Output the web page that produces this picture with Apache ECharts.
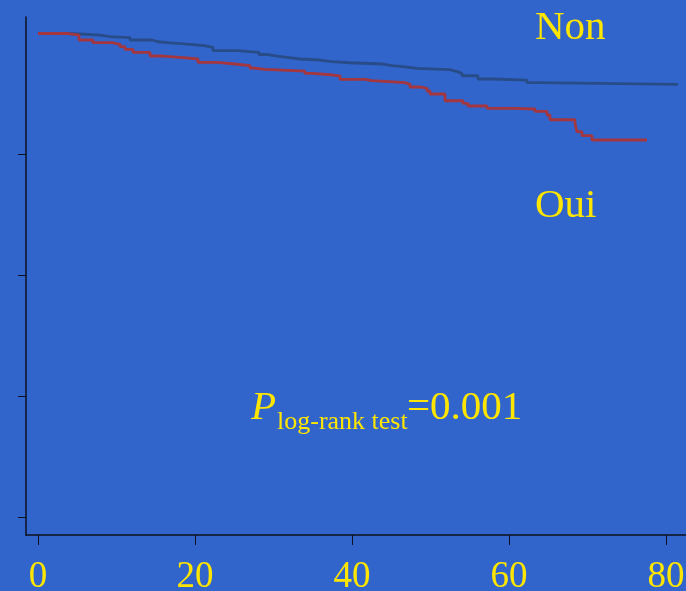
<!DOCTYPE html>
<html>
<head>
<meta charset="utf-8">
<script src="https://cdn.jsdelivr.net/npm/echarts@6/dist/echarts.min.js"></script>
<style>
html,body{margin:0;padding:0;background:#3265CB;}
#chart{width:686px;height:591px;}
</style>
</head>
<body>
<div id="chart"></div>
<script>
const xTicks = [0, 20, 40, 60, 80];
const yTicks = [0.2, 0.4, 0.6, 0.8];

const nonTimes = [0, 3.82, 5.35, 7.90, 9.17, 11.72, 14.52, 15.29, 16.56, 19.36, 21.02, 22.29, 25.35, 28.15, 29.30, 30.45, 31.97, 33.38, 35.92, 37.45, 39.75, 43.95, 45.10, 46.50, 48.28, 52.48, 53.38, 54.01, 56.05, 57.96, 62.29, 63.69, 81.53];
const nonSurv  = [1, 0.9992, 0.9975, 0.9947, 0.9931, 0.9893, 0.9864, 0.9848, 0.9821, 0.9802, 0.9769, 0.9716, 0.9689, 0.9653, 0.9628, 0.9603, 0.9579, 0.9562, 0.9534, 0.9517, 0.9496, 0.9468, 0.9451, 0.9425, 0.9402, 0.9369, 0.9342, 0.9302, 0.9248, 0.9231, 0.9187, 0.9160, 0.9160];

const ouiTimes = [0, 3.82, 5.22, 7.01, 9.43, 10.45, 11.08, 12.10, 14.27, 15.92, 18.47, 20.38, 22.80, 25.10, 27.01, 27.39, 28.92, 34.01, 35.03, 37.58, 38.47, 41.66, 42.55, 46.75, 47.39, 48.66, 49.55, 49.94, 51.85, 54.14, 54.78, 57.20, 60.76, 63.31, 64.84, 65.22, 68.41, 68.66, 69.30, 70.57, 77.58];
const ouiSurv  = [1, 0.9975, 0.9893, 0.9848, 0.9821, 0.9782, 0.9739, 0.9689, 0.9628, 0.9600, 0.9579, 0.9524, 0.9496, 0.9468, 0.9430, 0.9408, 0.9380, 0.9342, 0.9314, 0.9298, 0.9243, 0.9220, 0.9187, 0.9160, 0.9116, 0.9094, 0.9050, 0.9000, 0.8889, 0.8846, 0.8802, 0.8764, 0.8752, 0.8714, 0.8653, 0.8575, 0.8516, 0.8377, 0.8311, 0.8240, 0.8240];

const groupLabels = ['Non', 'Oui'];
const pText = ['P', 'log-rank test', '=0.001'];

const zip = (a, b) => a.map((v, i) => [v, b[i]]);
const yellow = '#FFE600';
const serif = '"Liberation Serif", "Times New Roman", serif';

const chart = echarts.init(document.getElementById('chart'));
chart.setOption({
  backgroundColor: '#3265CB',
  animation: false,
  grid: { left: 26, right: 0, top: 17, bottom: 56, containLabel: false, outerBoundsMode: 'none' },
  xAxis: {
    type: 'value', min: -1.529, max: 82.55,
    splitLine: { show: false },
    axisLine: { show: true, onZero: false, lineStyle: { color: '#0c1020', width: 1.5 } },
    axisTick: { show: true, customValues: xTicks, length: 10, lineStyle: { color: '#0c1020', width: 1 } },
    axisLabel: { customValues: xTicks, color: yellow, fontSize: 37, fontFamily: serif, margin: 24, hideOverlap: false }
  },
  yAxis: {
    type: 'value', min: 0.1711, max: 1.0273,
    splitLine: { show: false },
    axisLine: { show: true, onZero: false, lineStyle: { color: '#0c1020', width: 1.5 } },
    axisTick: { show: true, customValues: yTicks, length: 8, lineStyle: { color: '#0c1020', width: 1 } },
    axisLabel: { show: false }
  },
  series: [
    { name: groupLabels[0], type: 'line', step: 'end', showSymbol: false, data: zip(nonTimes, nonSurv),
      lineStyle: { color: '#284C88', width: 2.8 } },
    { name: groupLabels[1], type: 'line', step: 'end', showSymbol: false, data: zip(ouiTimes, ouiSurv),
      lineStyle: { color: '#A4363F', width: 2.8 } }
  ],
  graphic: [
    { type: 'text', left: 535, top: 8, style: { text: groupLabels[0], fill: yellow, font: '41px ' + serif } },
    { type: 'text', left: 535, top: 186, style: { text: groupLabels[1], fill: yellow, font: '41px ' + serif } },
    { type: 'text', left: 251, top: 388, style: { text: pText[0], fill: yellow, font: 'italic 41px ' + serif } },
    { type: 'text', left: 277, top: 409, style: { text: pText[1], fill: yellow, font: '26px ' + serif } },
    { type: 'text', left: 407, top: 388, style: { text: pText[2], fill: yellow, font: '41px ' + serif } }
  ]
});
</script>
</body>
</html>
